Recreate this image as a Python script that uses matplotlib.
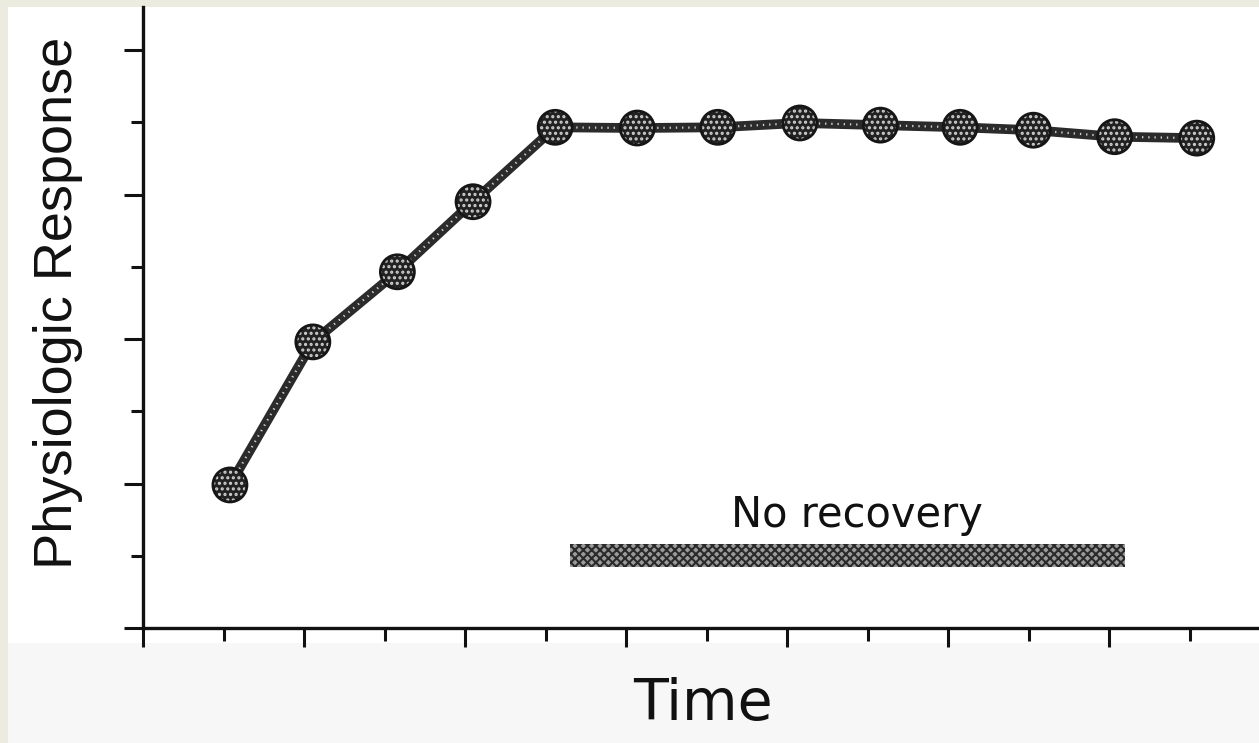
import matplotlib
matplotlib.use('Agg')
import matplotlib.pyplot as plt
from matplotlib.patches import Rectangle
from matplotlib.ticker import MultipleLocator

# data
time = [1.08, 2.11, 3.16, 4.10, 5.12, 6.14, 7.14, 8.16, 9.16, 10.15, 11.06, 12.07, 13.09]
response = [1.98, 3.96, 4.93, 5.90, 6.93, 6.92, 6.93, 6.99, 6.96, 6.93, 6.89, 6.80, 6.78]
no_recovery = [5.30, 12.20]   # start, end of the hatched bar
bar_level = 1.0

plt.rcParams['font.family'] = ['DejaVu Sans']
plt.rcParams['hatch.color'] = '#d0d0d0'
plt.rcParams['hatch.linewidth'] = 1.5

fig = plt.figure(figsize=(12.59, 7.43), dpi=100)
fig.patch.set_facecolor('#ecebdf')

# paper + speckled lower part
fig.add_artist(Rectangle((8 / 1259, 0), 1, 1 - 7 / 743, transform=fig.transFigure,
                         facecolor='white', edgecolor='none', zorder=-3))
fig.add_artist(Rectangle((8 / 1259, 0), 1, 100 / 743, transform=fig.transFigure,
                         facecolor='#f7f7f7', edgecolor='none', zorder=-2))

ax = fig.add_axes([143 / 1259, 115 / 743, 1116 / 1259, 621 / 743])
ax.patch.set_alpha(0)
ax.set_xlim(0, 1116 / 80.5)
ax.set_ylim(0, 621 / 72.25)

for s in ['top', 'right']:
    ax.spines[s].set_visible(False)
for s in ['left', 'bottom']:
    ax.spines[s].set_linewidth(2.4)
    ax.spines[s].set_color('#111111')

ax.xaxis.set_major_locator(MultipleLocator(2))
ax.xaxis.set_minor_locator(MultipleLocator(1))
ax.yaxis.set_major_locator(MultipleLocator(2))
ax.yaxis.set_minor_locator(MultipleLocator(1))
ax.tick_params(which='major', direction='out', length=14, width=2.2, color='#111111',
               labelbottom=False, labelleft=False)
ax.tick_params(which='minor', direction='out', length=9, width=2.2, color='#111111')

# response curve
ax.plot(time, response, color='#2b2b2b', lw=7, solid_capstyle='round', zorder=3)
ax.plot(time, response, color='#cfcfcf', lw=1.6, linestyle=(0, (0.6, 2.2)), zorder=4)
ax.scatter(time, response, s=600, facecolor='#222222', edgecolor='none',
           hatch='...', zorder=5)
ax.scatter(time, response, s=600, facecolor='none', edgecolor='#161616',
           linewidth=2.0, zorder=6)

# no-recovery bar
ax.barh(bar_level, no_recovery[1] - no_recovery[0], left=no_recovery[0], height=0.32,
        facecolor='#9a9a9a', edgecolor='#2a2a2a', hatch='xxxx', linewidth=0, zorder=3)
ax.text(sum(no_recovery) / 2 + 0.12, 1.40, 'No recovery', ha='center', va='baseline',
        fontsize=30, color='#111111')

fig.text(703 / 1259, 1 - 720 / 743, 'Time', ha='center', va='baseline',
         fontsize=41, color='#111111')
fig.text(58 / 1259, 1 - 303 / 743, 'Physiologic Response', rotation=90,
         ha='center', va='center', fontsize=39, color='#111111',
         family=['Liberation Sans', 'DejaVu Sans'])

fig.savefig('out.png', dpi=100, facecolor=fig.get_facecolor())
